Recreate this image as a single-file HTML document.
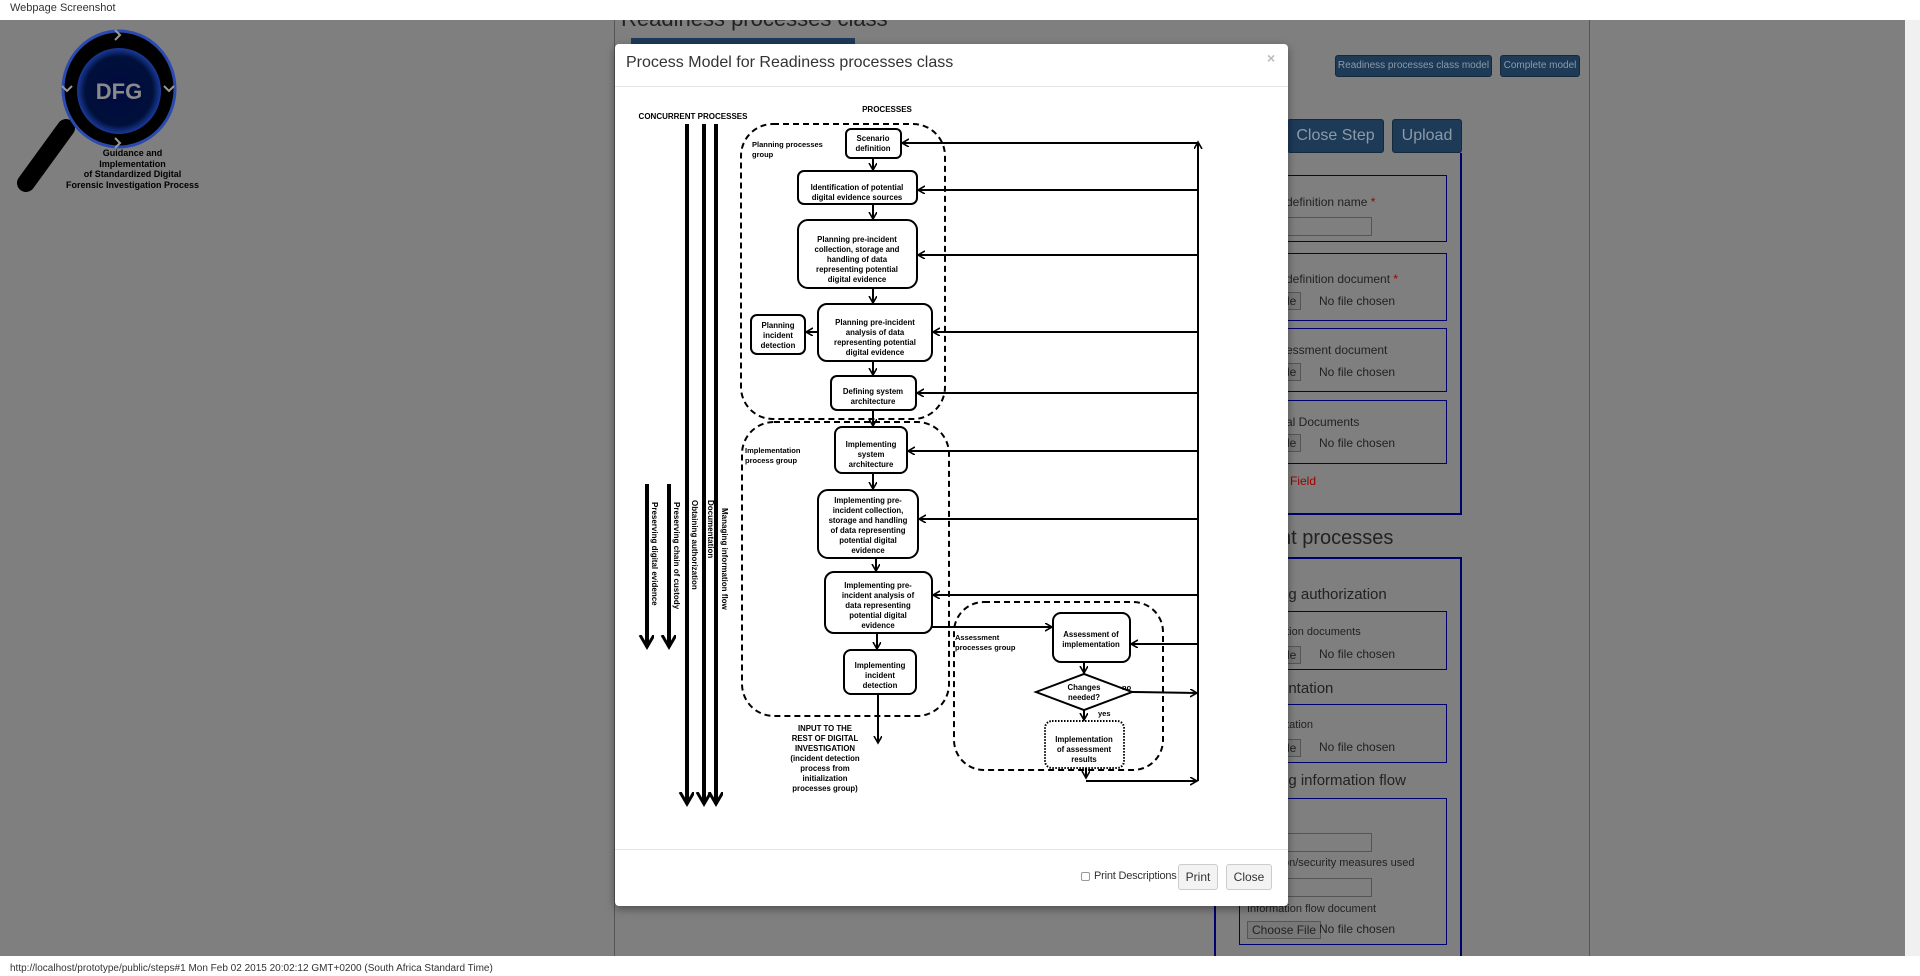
<!DOCTYPE html>
<html><head><meta charset="utf-8"><style>
*{margin:0;padding:0;box-sizing:border-box}
body{width:1920px;height:976px;position:relative;overflow:hidden;background:#7f7f7f;font-family:"Liberation Sans",Arial,sans-serif}
.a{position:absolute}
.btn{position:absolute;background:#1d3a57;border:1px solid #15293d;border-radius:3px;color:#8d9aa8;text-align:center}
.bx{position:absolute;border:1px solid #00006e}
.t{position:absolute;color:#222;white-space:nowrap}
.fb{position:absolute;background:#777;border:1px solid #555;color:#222;font-size:12px;padding:1px 4px}
</style></head><body>
<div class="t" style="left:621px;top:6px;font-size:22px;color:#222">Readiness processes class</div>
<div class="a" style="left:0;top:0;width:1920px;height:20px;background:#fff"></div>
<div class="t" style="left:10px;top:2px;font-size:11px;color:#333">Webpage Screenshot</div>
<div class="a" style="left:1905px;top:20px;width:15px;height:936px;background:#f0f0f0"></div>
<div class="a" style="left:614px;top:20px;width:1px;height:936px;background:#555"></div>
<div class="a" style="left:1589px;top:20px;width:1px;height:936px;background:#555"></div>

<svg class="a" style="left:0;top:20px" width="200" height="180">
<defs><radialGradient id="g"><stop offset="0" stop-color="#000a40"/><stop offset=".8" stop-color="#00103a"/><stop offset="1" stop-color="#1a3a9a"/></radialGradient></defs>
<line x1="66" y1="108" x2="26" y2="163" stroke="#000" stroke-width="18" stroke-linecap="round"/>
<ellipse cx="119" cy="69" rx="56" ry="58" fill="#000" stroke="#2a4ab0" stroke-width="3"/>
<ellipse cx="119" cy="71" rx="42" ry="43" fill="url(#g)"/>
<text x="119" y="79" text-anchor="middle" font-family="Liberation Sans" font-weight="bold" font-size="22" fill="#8a8a8a">DFG</text>
<path d="M115 10l5 5-5 5M115 118l5 5-5 5M62 66l5 5 5-5M164 66l5 5 5-5" stroke="#999" stroke-width="2" fill="none"/>
</svg>
<div class="t" style="left:40px;top:148px;width:185px;text-align:center;font-size:9px;font-weight:bold;line-height:10.5px;color:#000">Guidance and<br>Implementation<br>of Standardized Digital<br>Forensic Investigation Process</div>

<div class="a" style="left:631px;top:38px;width:224px;height:12px;background:#1d3a57"></div>

<div class="btn" style="left:1335px;top:55px;width:157px;height:22px;font-size:10px;line-height:20px">Readiness processes class model</div>
<div class="btn" style="left:1500px;top:55px;width:80px;height:22px;font-size:10px;line-height:20px">Complete model</div>
<div class="btn" style="left:1287px;top:119px;width:97px;height:34px;font-size:16px;line-height:32px">Close Step</div>
<div class="btn" style="left:1392px;top:119px;width:70px;height:34px;font-size:16px;line-height:32px">Upload</div>
<div class="a" style="left:1200px;top:153px;width:262px;height:362px;border:2px solid #00006e;border-top:none"></div>
<div class="bx" style="left:1200px;top:175px;width:247px;height:67px"></div>
<div class="t" style="left:1286px;top:195px;font-size:12px">definition name <span style="color:#900">*</span></div>
<div class="a" style="left:1280px;top:217px;width:92px;height:19px;border:1px solid #555"></div>
<div class="bx" style="left:1200px;top:253px;width:247px;height:68px"></div>
<div class="t" style="left:1286px;top:272px;font-size:12px">definition document <span style="color:#900">*</span></div>
<div class="fb" style="left:1272px;top:292px">File</div><div class="t" style="left:1319px;top:294px;font-size:12px">No file chosen</div>
<div class="bx" style="left:1200px;top:328px;width:247px;height:64px"></div>
<div class="t" style="left:1286px;top:343px;font-size:12px">essment document</div>
<div class="fb" style="left:1272px;top:363px">File</div><div class="t" style="left:1319px;top:365px;font-size:12px">No file chosen</div>
<div class="bx" style="left:1200px;top:400px;width:247px;height:64px"></div>
<div class="t" style="left:1286px;top:415px;font-size:12px">al Documents</div>
<div class="fb" style="left:1272px;top:434px">File</div><div class="t" style="left:1319px;top:436px;font-size:12px">No file chosen</div>
<div class="t" style="left:1290px;top:474px;font-size:12px;color:#900">Field</div>

<div class="t" style="left:1280px;top:527px;font-size:20px">nt processes</div>
<div class="a" style="left:1214px;top:557px;width:248px;height:399px;border:2px solid #00006e;border-bottom:none"></div>
<div class="t" style="left:1280px;top:586px;font-size:15px">ng authorization</div>
<div class="bx" style="left:1239px;top:611px;width:208px;height:59px"></div>
<div class="t" style="left:1280px;top:626px;font-size:11px">ation documents</div>
<div class="fb" style="left:1272px;top:646px">File</div><div class="t" style="left:1319px;top:647px;font-size:12px">No file chosen</div>
<div class="t" style="left:1280px;top:680px;font-size:15px">entation</div>
<div class="bx" style="left:1239px;top:704px;width:208px;height:59px"></div>
<div class="t" style="left:1280px;top:719px;font-size:11px">ntation</div>
<div class="fb" style="left:1272px;top:739px">File</div><div class="t" style="left:1319px;top:740px;font-size:12px">No file chosen</div>
<div class="t" style="left:1280px;top:772px;font-size:15px">ng information flow</div>
<div class="bx" style="left:1239px;top:798px;width:208px;height:147px"></div>
<div class="a" style="left:1280px;top:833px;width:92px;height:19px;border:1px solid #555"></div>
<div class="t" style="left:1283px;top:857px;font-size:11px">on/security measures used</div>
<div class="a" style="left:1280px;top:878px;width:92px;height:19px;border:1px solid #555"></div>
<div class="t" style="left:1247px;top:903px;font-size:11px">Information flow document</div>
<div class="fb" style="left:1247px;top:921px">Choose File</div><div class="t" style="left:1319px;top:922px;font-size:12px">No file chosen</div>

<div class="a" style="left:0;top:956px;width:1920px;height:20px;background:#fff"></div>
<div class="t" style="left:10px;top:963px;font-size:10px;color:#333">http://localhost/prototype/public/steps#1 Mon Feb 02 2015 20:02:12 GMT+0200 (South Africa Standard Time)</div>

<div class="a" style="left:615px;top:44px;width:673px;height:862px;background:#fff;border-radius:4px;box-shadow:0 3px 9px rgba(0,0,0,.4)"></div>
<div class="t" style="left:626px;top:54px;font-size:16px;color:#333">Process Model for Readiness processes class</div>
<div class="t" style="left:1267px;top:50px;font-size:14px;color:#bbb;font-weight:bold">×</div>
<div class="a" style="left:615px;top:86px;width:673px;height:1px;background:#e5e5e5"></div>
<div class="a" style="left:615px;top:849px;width:673px;height:1px;background:#e5e5e5"></div>
<div class="a" style="left:1081px;top:872px;width:9px;height:9px;border:1px solid #999;border-radius:2px"></div>
<div class="t" style="left:1094px;top:870px;font-size:11px;color:#333;letter-spacing:-0.2px">Print Descriptions</div>
<div class="a" style="left:1178px;top:864px;width:40px;height:26px;border:1px solid #ccc;border-radius:3px;background:#f3f3f3;font-size:12px;line-height:24px;text-align:center;color:#333">Print</div>
<div class="a" style="left:1226px;top:864px;width:46px;height:26px;border:1px solid #ccc;border-radius:3px;background:#f3f3f3;font-size:12px;line-height:24px;text-align:center;color:#333">Close</div>

<svg class="a" style="left:0;top:0" width="1920" height="976" font-family="Liberation Sans, Arial, sans-serif" font-size="8" font-weight="bold">
<defs>
<marker id="ar" markerWidth="10" markerHeight="10" refX="7" refY="4" orient="auto" markerUnits="userSpaceOnUse"><path d="M0 0L7 4L0 8" fill="none" stroke="#000" stroke-width="1.6"/></marker>
<marker id="big" markerWidth="20" markerHeight="20" refX="12" refY="7" orient="auto" markerUnits="userSpaceOnUse"><path d="M0 0L12 7L0 14" fill="none" stroke="#000" stroke-width="3"/></marker>
</defs>
<g text-anchor="middle">
<text x="693" y="119">CONCURRENT PROCESSES</text>
<text x="887" y="112">PROCESSES</text>
</g>
<g fill="none" stroke="#000" stroke-width="2" stroke-dasharray="6,4">
<rect x="741" y="124" width="204" height="295" rx="32"/>
<rect x="742" y="422" width="207" height="294" rx="32"/>
<rect x="954" y="602" width="209" height="168" rx="30"/>
</g>
<g fill="#fff" stroke="#000" stroke-width="2">
<rect x="846" y="129" width="55" height="29" rx="5"/>
<rect x="798" y="171" width="119" height="33" rx="6"/>
<rect x="798" y="220" width="119" height="68" rx="10"/>
<rect x="818" y="304" width="114" height="57" rx="9"/>
<rect x="751" y="315" width="54" height="39" rx="6"/>
<rect x="831" y="376" width="85" height="34" rx="6"/>
<rect x="835" y="427" width="72" height="46" rx="7"/>
<rect x="818" y="490" width="100" height="68" rx="10"/>
<rect x="825" y="572" width="107" height="61" rx="9"/>
<rect x="844" y="650" width="72" height="44" rx="7"/>
<rect x="1053" y="613" width="77" height="49" rx="8"/>
<path d="M1036 692L1084 674L1132 692L1084 710Z"/>
<rect x="1045" y="721" width="79" height="47" rx="7" stroke-dasharray="1.5,1.5"/>
</g>
<g stroke="#000" stroke-width="2" fill="none" marker-end="url(#ar)">
<line x1="873" y1="158" x2="873" y2="170"/>
<line x1="873" y1="204" x2="873" y2="219"/>
<line x1="873" y1="288" x2="873" y2="303"/>
<line x1="873" y1="361" x2="873" y2="375"/>
<line x1="873" y1="410" x2="873" y2="426"/>
<line x1="873" y1="473" x2="873" y2="489"/>
<line x1="876" y1="558" x2="876" y2="571"/>
<line x1="877" y1="633" x2="877" y2="649"/>
<line x1="878" y1="694" x2="878" y2="743"/>
<line x1="818" y1="332" x2="806" y2="332"/>
<line x1="1084" y1="662" x2="1084" y2="673"/>
<line x1="1084" y1="710" x2="1084" y2="720"/>
<line x1="1086" y1="768" x2="1086" y2="778"/>
<line x1="932" y1="627" x2="1052" y2="627"/>
<line x1="1132" y1="692" x2="1197" y2="693"/>
<line x1="1086" y1="781" x2="1197" y2="781"/>
<line x1="1198" y1="781" x2="1198" y2="142"/>
<line x1="1198" y1="143" x2="902" y2="143"/>
<line x1="1198" y1="190" x2="918" y2="190"/>
<line x1="1198" y1="255" x2="918" y2="255"/>
<line x1="1198" y1="332" x2="933" y2="332"/>
<line x1="1198" y1="393" x2="917" y2="393"/>
<line x1="1198" y1="451" x2="908" y2="451"/>
<line x1="1198" y1="519" x2="919" y2="519"/>
<line x1="1198" y1="595" x2="933" y2="595"/>
<line x1="1198" y1="644" x2="1131" y2="644"/>
</g>
<g stroke="#000" stroke-width="4" marker-end="url(#big)">
<line x1="687" y1="124" x2="687" y2="804"/>
<line x1="704" y1="124" x2="704" y2="804"/>
<line x1="716" y1="124" x2="716" y2="804"/>
<line x1="647" y1="484" x2="647" y2="647"/>
<line x1="669" y1="484" x2="669" y2="647"/>
</g>
<g font-size="8">
<text transform="translate(652,502) rotate(90)">Preserving digital evidence</text>
<text transform="translate(674,502) rotate(90)">Preserving chain of custody</text>
<text transform="translate(692,500) rotate(90)">Obtaining authorization</text>
<text transform="translate(708,500) rotate(90)">Documentation</text>
<text transform="translate(722,508) rotate(90)">Managing information flow</text>
</g>
<g font-size="7.5">
<text x="752" y="147">Planning processes</text><text x="752" y="157">group</text>
<text x="745" y="453">Implementation</text><text x="745" y="463">process group</text>
<text x="955" y="640">Assessment</text><text x="955" y="650">processes group</text>
<text x="1122" y="690">no</text><text x="1098" y="716">yes</text>
</g>
<g text-anchor="middle" font-size="7.8">
<text x="873" y="141">Scenario</text><text x="873" y="151">definition</text>
<text x="857" y="190">Identification of potential</text><text x="857" y="200">digital evidence sources</text>
<text x="857" y="242">Planning pre-incident</text><text x="857" y="252">collection, storage and</text><text x="857" y="262">handling of data</text><text x="857" y="272">representing potential</text><text x="857" y="282">digital evidence</text>
<text x="875" y="325">Planning pre-incident</text><text x="875" y="335">analysis of data</text><text x="875" y="345">representing potential</text><text x="875" y="355">digital evidence</text>
<text x="778" y="328">Planning</text><text x="778" y="338">incident</text><text x="778" y="348">detection</text>
<text x="873" y="394">Defining system</text><text x="873" y="404">architecture</text>
<text x="871" y="447">Implementing</text><text x="871" y="457">system</text><text x="871" y="467">architecture</text>
<text x="868" y="503">Implementing pre-</text><text x="868" y="513">incident collection,</text><text x="868" y="523">storage and handling</text><text x="868" y="533">of data representing</text><text x="868" y="543">potential digital</text><text x="868" y="553">evidence</text>
<text x="878" y="588">Implementing pre-</text><text x="878" y="598">incident analysis of</text><text x="878" y="608">data representing</text><text x="878" y="618">potential digital</text><text x="878" y="628">evidence</text>
<text x="880" y="668">Implementing</text><text x="880" y="678">incident</text><text x="880" y="688">detection</text>
<text x="1091" y="637">Assessment of</text><text x="1091" y="647">implementation</text>
<text x="1084" y="690">Changes</text><text x="1084" y="700">needed?</text>
<text x="1084" y="742">Implementation</text><text x="1084" y="752">of assessment</text><text x="1084" y="762">results</text>
<text x="825" y="731">INPUT TO THE</text><text x="825" y="741">REST OF DIGITAL</text><text x="825" y="751">INVESTIGATION</text><text x="825" y="761">(incident detection</text><text x="825" y="771">process from</text><text x="825" y="781">initialization</text><text x="825" y="791">processes group)</text>
</g>
</svg>
</body></html>
